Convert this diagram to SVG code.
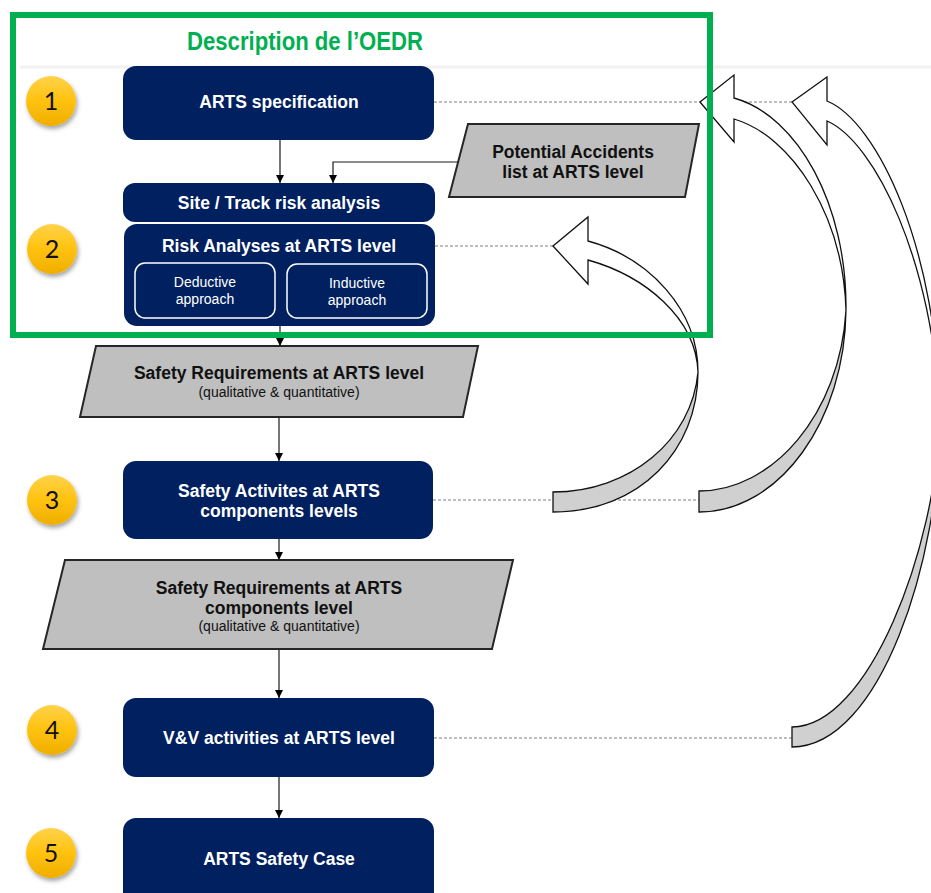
<svg xmlns="http://www.w3.org/2000/svg" width="931" height="893" viewBox="0 0 931 893">
<style>
.box{fill:#002060;}
.bt{font-family:"Liberation Sans",Arial,sans-serif;font-weight:bold;font-size:17.5px;fill:#ffffff;text-anchor:middle;}
.st{font-family:"Liberation Sans",Arial,sans-serif;font-size:14px;fill:#ffffff;text-anchor:middle;}
.sub{fill:none;stroke:#ffffff;stroke-width:1.5;}
.para{fill:#bfbfbf;stroke:#262626;stroke-width:2;}
.pt{font-family:"Liberation Sans",Arial,sans-serif;font-weight:bold;font-size:17.5px;fill:#111111;text-anchor:middle;}
.ps{font-family:"Liberation Sans",Arial,sans-serif;font-size:14px;fill:#111111;text-anchor:middle;}
.dot{stroke:#808080;stroke-width:1.2;stroke-dasharray:3 2;fill:none;}
.con{stroke:#1a1a1a;stroke-width:1.2;fill:none;marker-end:url(#ah);}
.cw{fill:#ffffff;stroke:#111111;stroke-width:1.3;stroke-linejoin:miter;}
.cg{fill:#d0d0d0;stroke:#111111;stroke-width:1.3;}
.num{font-family:Lato,"Open Sans",sans-serif;font-size:25px;fill:#111111;text-anchor:middle;}
.circ{fill:url(#gold);filter:url(#sh);}
</style>
<defs>
<marker id="ah" viewBox="0 0 10 10" refX="10" refY="5" markerWidth="8" markerHeight="8" markerUnits="userSpaceOnUse" orient="auto">
<path d="M0,0 L10,5 L0,10 Z" fill="#000000"/>
</marker>
<linearGradient id="gold" x1="0" y1="0" x2="0" y2="1">
<stop offset="0" stop-color="#ffd24a"/>
<stop offset="0.5" stop-color="#ffc20e"/>
<stop offset="1" stop-color="#efae00"/>
</linearGradient>
<filter id="sh" x="-30%" y="-30%" width="170%" height="170%">
<feDropShadow dx="1.5" dy="3" stdDeviation="2" flood-color="#000000" flood-opacity="0.35"/>
</filter>
</defs>
<rect x="0" y="0" width="931" height="893" fill="#ffffff"/>
<line x1="20" y1="67" x2="931" y2="67" stroke="#f1f1f1" stroke-width="3"/>

<g id="connectors">
<line class="dot" x1="434" y1="102" x2="792" y2="102"/>
<line class="dot" x1="435" y1="246" x2="553" y2="246"/>
<line class="dot" x1="433" y1="500" x2="699" y2="500"/>
<line class="dot" x1="434" y1="738" x2="792" y2="738"/>
<line class="con" x1="280" y1="140" x2="280" y2="183"/>
<polyline class="con" points="458,162 333,162 333,183"/>
<line class="con" x1="280" y1="326" x2="280" y2="346"/>
<line class="con" x1="279" y1="417" x2="279" y2="461"/>
<line class="con" x1="279" y1="539" x2="279" y2="560"/>
<line class="con" x1="279" y1="649" x2="279" y2="698"/>
<line class="con" x1="279" y1="777" x2="279" y2="818"/>
</g>

<g id="curved-arrow-a">
<path class="cg" d="M698,372 C698,450 640,512 553,512 L553,492 C630,492 692,440 698,372 Z"/>
<path class="cw" d="M553,246 L588,217 L588,241 C650,258 698,310 698,372 C696,318 645,276 588,260 L588,284 Z"/>
</g>
<g id="curved-arrow-b">
<path class="cg" d="M846,310 C845,420 780,512 699,512 L699,491 C772,491 840,415 846,310 Z"/>
<path class="cw" d="M700,102 L734,75 L734,98 C798,116 847,205 846,310 C843,215 792,136 734,119 L734,142 Z"/>
</g>
<g id="curved-arrow-c">
<path class="cg" d="M940,418 C940,560 880,747 792,747 L792,727 C868,727 936,550 940,418 Z"/>
<path class="cw" d="M792,102 L827,77 L827,101 C878,122 938,250 940,418 C934,262 875,142 827,121 L827,145 Z"/>
</g>

<g id="n-arts-spec">
<rect class="box" x="123" y="66" width="311" height="74" rx="13"/>
<text class="bt" x="279" y="108">ARTS specification</text>
</g>
<g id="n-potential-accidents">
<polygon class="para" points="468,124 699,124 685,197 449,197"/>
<text class="pt" x="573" y="158">Potential Accidents</text>
<text class="pt" x="573" y="178">list at ARTS level</text>
</g>
<g id="n-site-track">
<rect class="box" x="123" y="183" width="312" height="39" rx="12"/>
<text class="bt" x="279" y="209">Site / Track risk analysis</text>
</g>
<g id="n-risk-analyses">
<rect class="box" x="124" y="224" width="311" height="102" rx="13"/>
<text class="bt" x="279" y="252">Risk Analyses at ARTS level</text>
<rect class="sub" x="135" y="263" width="140" height="55" rx="10"/>
<text class="st" x="205" y="287">Deductive</text>
<text class="st" x="205" y="304">approach</text>
<rect class="sub" x="287" y="264" width="140" height="54" rx="10"/>
<text class="st" x="357" y="288">Inductive</text>
<text class="st" x="357" y="305">approach</text>
</g>
<g id="n-sr-arts">
<polygon class="para" points="96,346 478,346 463,417 80,417"/>
<text class="pt" x="279" y="379">Safety Requirements at ARTS level</text>
<text class="ps" x="279" y="397">(qualitative  &amp;  quantitative)</text>
</g>
<g id="n-safety-activities">
<rect class="box" x="123" y="461" width="310" height="78" rx="13"/>
<text class="bt" x="279" y="497">Safety Activites at ARTS</text>
<text class="bt" x="279" y="517">components levels</text>
</g>
<g id="n-sr-components">
<polygon class="para" points="65,560 513,560 492,649 43,649"/>
<text class="pt" x="279" y="594">Safety Requirements at ARTS</text>
<text class="pt" x="279" y="614">components level</text>
<text class="ps" x="279" y="631">(qualitative  &amp;  quantitative)</text>
</g>
<g id="n-vv">
<rect class="box" x="123" y="698" width="311" height="79" rx="13"/>
<text class="bt" x="279" y="744">V&amp;V activities at ARTS level</text>
</g>
<g id="n-safety-case">
<rect class="box" x="123" y="818" width="311" height="95" rx="13"/>
<text class="bt" x="279" y="865">ARTS Safety Case</text>
</g>

<g id="step-1"><circle class="circ" cx="51" cy="101" r="25"/><text class="num" x="51" y="110">1</text></g>
<g id="step-2"><circle class="circ" cx="52" cy="249" r="25"/><text class="num" x="52" y="258">2</text></g>
<g id="step-3"><circle class="circ" cx="52" cy="500" r="25"/><text class="num" x="52" y="509">3</text></g>
<g id="step-4"><circle class="circ" cx="52" cy="730" r="25"/><text class="num" x="52" y="739">4</text></g>
<g id="step-5"><circle class="circ" cx="51" cy="853" r="25"/><text class="num" x="51" y="862">5</text></g>

<g id="oedr-frame">
<rect x="13" y="15" width="697" height="320" fill="none" stroke="#00b050" stroke-width="6"/>
<text x="305" y="50" font-family="'Liberation Sans',Arial,sans-serif" font-weight="bold" font-size="25" fill="#00b050" text-anchor="middle" textLength="236" lengthAdjust="spacingAndGlyphs">Description de l’OEDR</text>
</g>
</svg>
